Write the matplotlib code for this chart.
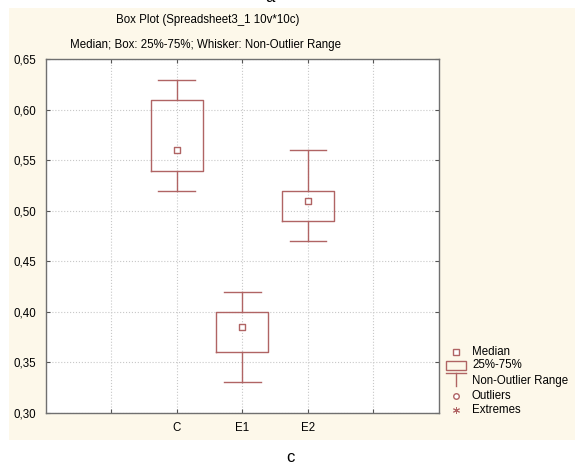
import matplotlib.pyplot as plt
from matplotlib.patches import Rectangle
from matplotlib.lines import Line2D
from matplotlib.ticker import FuncFormatter

plt.rcParams['font.family'] = ['Liberation Sans', 'DejaVu Sans']

# data
groups = ['C', 'E1', 'E2']
medians = [0.560, 0.385, 0.510]
q1 = [0.54, 0.36, 0.49]
q3 = [0.61, 0.40, 0.52]
whis_lo = [0.52, 0.33, 0.47]
whis_hi = [0.63, 0.42, 0.56]
positions = [2, 3, 4]
tick_pos = [1, 2, 3, 4, 5]
tick_labels = ['', 'C', 'E1', 'E2', '']
y_ticks = [0.30, 0.35, 0.40, 0.45, 0.50, 0.55, 0.60, 0.65]

box_color = '#b06464'
panel_color = '#fdf8ea'
fs = 8.3

fig = plt.figure(figsize=(5.75, 4.63), dpi=100)
fig.patches.append(Rectangle((9 / 575, 1 - 440 / 463), 1 - 9 / 575, (440 - 8) / 463,
                             transform=fig.transFigure, facecolor=panel_color,
                             edgecolor='none', zorder=-10))

ax = fig.add_axes([0.0795, 0.1086, 0.684, 0.7629])
ax.set_facecolor('white')

stats = []
for i, g in enumerate(groups):
    stats.append(dict(label=g, med=medians[i], q1=q1[i], q3=q3[i],
                      whislo=whis_lo[i], whishi=whis_hi[i], fliers=[]))

ax.bxp(stats, positions=positions, widths=0.79, capwidths=0.56, showfliers=False,
       boxprops=dict(color=box_color, linewidth=1.0),
       whiskerprops=dict(color=box_color, linewidth=1.0),
       capprops=dict(color=box_color, linewidth=1.0),
       medianprops=dict(visible=False), manage_ticks=False, zorder=3)
ax.scatter(positions, medians, marker='s', s=18, facecolor='white',
           edgecolor=box_color, linewidth=1.0, zorder=4)

ax.set_xlim(0, 6)
ax.set_ylim(0.30, 0.65)
ax.set_xticks(tick_pos)
ax.set_xticklabels(tick_labels)
ax.set_yticks(y_ticks)
ax.yaxis.set_major_formatter(FuncFormatter(lambda v, p: f'{v:.2f}'.replace('.', ',')))
ax.grid(True, linestyle=':', color='#c8c8c8', linewidth=0.8, zorder=0)
ax.set_axisbelow(True)
ax.tick_params(direction='in', length=3, width=0.8, color='#555555', labelsize=fs,
               top=True, right=True, pad=7)
for s in ax.spines.values():
    s.set_color('#707070')
    s.set_linewidth(1.0)

fig.text(208 / 575, 1 - 20 / 463, 'Box Plot (Spreadsheet3_1 10v*10c)',
         ha='center', va='center', fontsize=fs)
fig.text(205 / 575, 1 - 45 / 463, 'Median; Box: 25%-75%; Whisker: Non-Outlier Range',
         ha='center', va='center', fontsize=fs)
fig.text(270 / 575, 1.006, 'a', ha='center', va='center', fontsize=12)
fig.text(290 / 575, 1 - 457 / 463, 'c', ha='center', va='center', fontsize=12)

# legend drawn by hand, in pixel positions from the reference
W, H = 575, 463
lx = 456 / W
tx = 472 / W
rows = [352, 365, 381, 396, 410]
names = ['Median', '25%-75%', 'Non-Outlier Range', 'Outliers', 'Extremes']
ys = [1 - r / H for r in rows]
fig.add_artist(Line2D([lx], [ys[0]], marker='s', markersize=4, markerfacecolor='white',
                      markeredgecolor=box_color, linestyle='none', transform=fig.transFigure))
fig.patches.append(Rectangle((446 / W, 1 - 370 / H), 20 / W, 9 / H,
                             transform=fig.transFigure, facecolor='none',
                             edgecolor=box_color, linewidth=1.0))
fig.add_artist(Line2D([446 / W, 466 / W], [1 - 373 / H] * 2,
                      color=box_color, linewidth=1.0, transform=fig.transFigure))
fig.add_artist(Line2D([lx, lx], [1 - 373 / H, 1 - 386 / H],
                      color=box_color, linewidth=1.0, transform=fig.transFigure))
fig.add_artist(Line2D([lx], [ys[3]], marker='o', markersize=4, markerfacecolor='white',
                      markeredgecolor=box_color, linestyle='none', transform=fig.transFigure))
fig.add_artist(Line2D([lx], [ys[4]], marker=(6, 2, 0), markersize=5,
                      markeredgecolor=box_color, linestyle='none', markeredgewidth=0.7,
                      transform=fig.transFigure))
for y, n in zip(ys, names):
    fig.text(tx, y, n, ha='left', va='center', fontsize=fs)

fig.savefig('out.png', dpi=100)
